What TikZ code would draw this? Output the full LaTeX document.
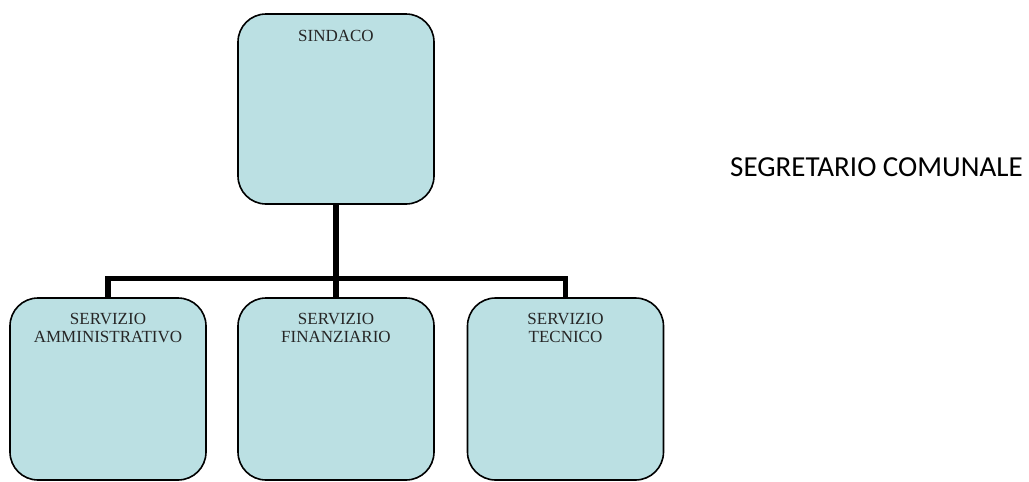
\documentclass[tikz,border=0pt]{standalone}
\usepackage{fontspec}
\setmainfont{Liberation Serif}
\newfontfamily\carlito{Carlito}
\definecolor{boxfill}{RGB}{187,224,227}
\begin{document}
\begin{tikzpicture}[x=1pt,y=-1pt,
  box/.style={draw=black, line width=1.6pt, fill=boxfill, rounded corners=28pt,
    minimum width=196pt, inner sep=0pt, outer sep=0pt},
  lbl/.style={font=\fontsize{17}{18.5}\selectfont, align=center, inner sep=0pt, text=black!85},
  conn/.style={draw=black, line width=5.5pt, line join=miter}
]
\useasboundingbox (0,0) rectangle (1029,482);
\node[box, minimum height=190pt,
  label={[lbl, anchor=north, yshift=-16pt]north:SINDACO}] (sindaco) at (336,109) {};
\node[box, minimum height=182pt,
  label={[lbl, anchor=north, yshift=-15pt]north:SERVIZIO\\AMMINISTRATIVO}] (amm) at (108,389) {};
\node[box, minimum height=182pt,
  label={[lbl, anchor=north, yshift=-15pt]north:SERVIZIO\\FINANZIARIO}] (fin) at (336,389) {};
\node[box, minimum height=182pt,
  label={[lbl, anchor=north, yshift=-15pt]north:SERVIZIO\\TECNICO}] (tec) at (565.5,389) {};
\node[font=\carlito\fontsize{29}{34}\selectfont, anchor=base west, inner sep=0pt] (seg) at (730,176) {SEGRETARIO COMUNALE};
\coordinate (j) at (336,278.5);
\draw[conn] (sindaco.south) -- (fin.north);
\draw[conn] (amm.north) |- (j) -| (tec.north);
\end{tikzpicture}
\end{document}
